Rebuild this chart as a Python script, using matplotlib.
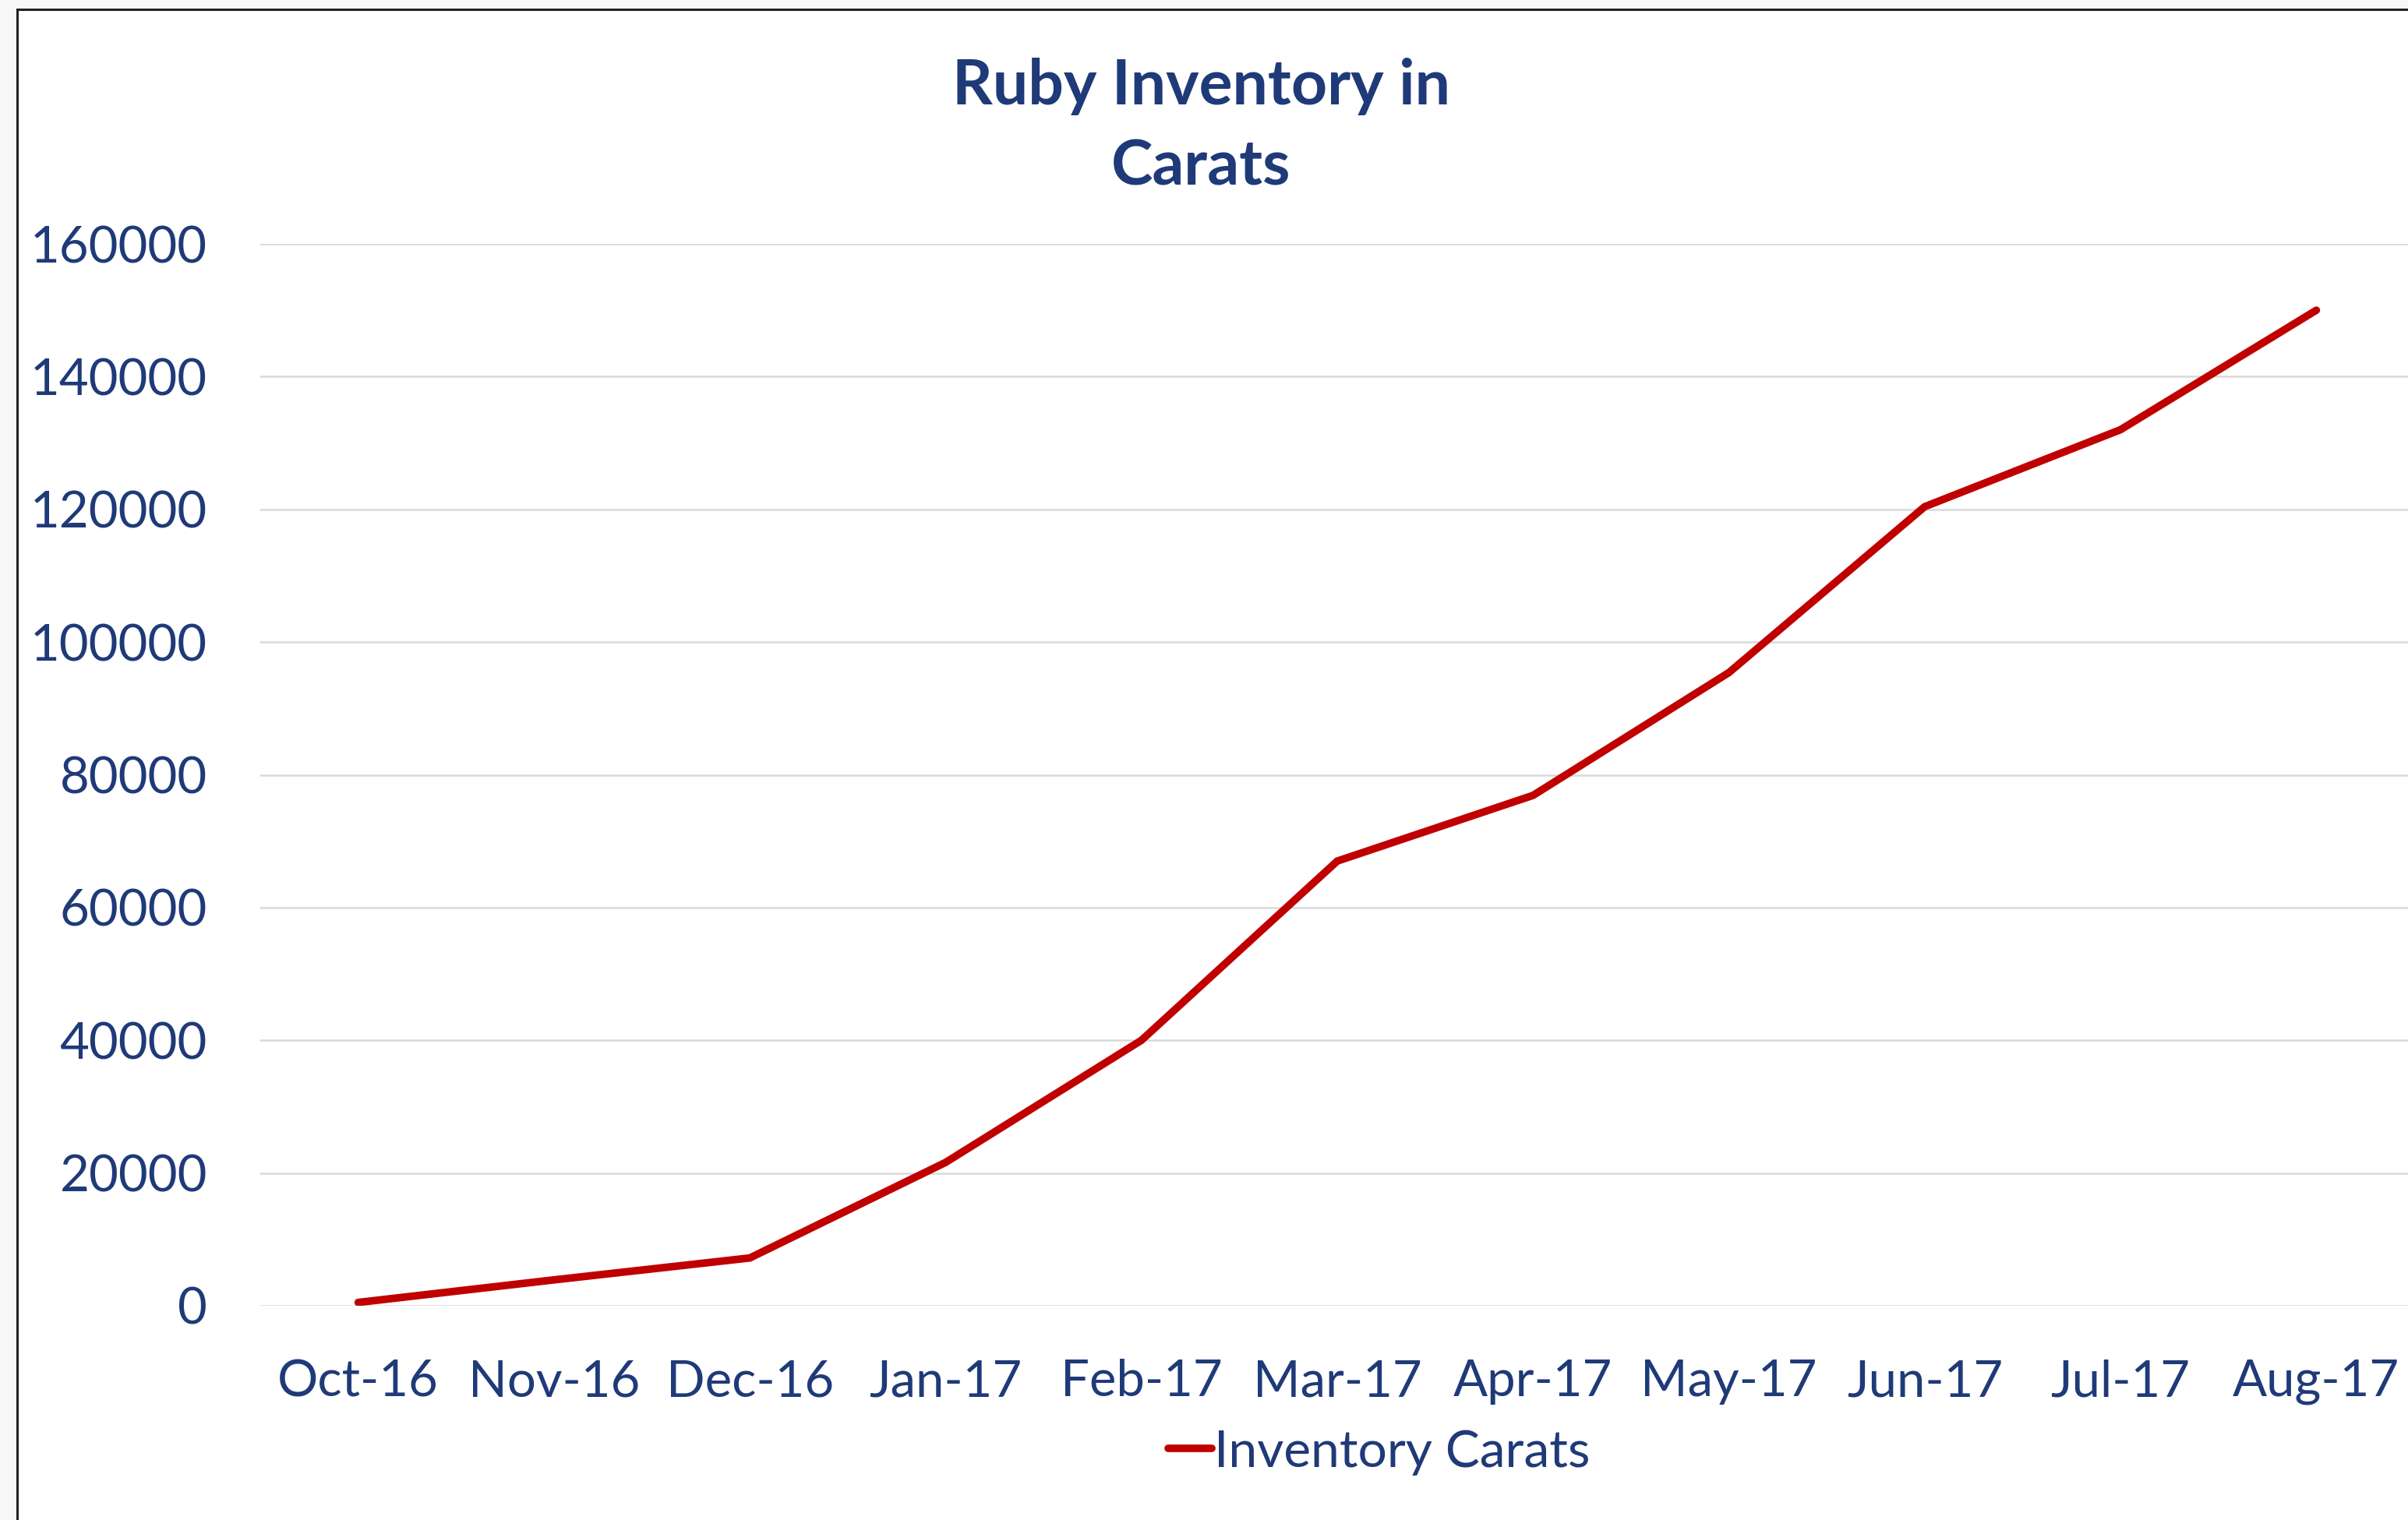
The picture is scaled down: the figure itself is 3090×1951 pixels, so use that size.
import matplotlib
matplotlib.use("Agg")
import matplotlib.pyplot as plt
from matplotlib.patches import Rectangle

# data
months = ["Oct-16", "Nov-16", "Dec-16", "Jan-17", "Feb-17", "Mar-17",
          "Apr-17", "May-17", "Jun-17", "Jul-17", "Aug-17"]
carats = [500, 3900, 7200, 21600, 40000, 67000, 76900, 95400, 120400, 132000, 150000]
yticks = [0, 20000, 40000, 60000, 80000, 100000, 120000, 140000, 160000]

NAVY = "#1F3A78"
RED = "#C00000"
plt.rcParams["font.family"] = ["Lato", "DejaVu Sans"]

W, H = 3090, 1951
fig = plt.figure(figsize=(W / 100, H / 100), dpi=100, facecolor="#f8f8f8")

# chart frame (clipped at right/bottom like the screenshot)
fig.patches.append(Rectangle((22 / W, -0.02), 1.05, 1 - 12 / H + 0.02,
                             transform=fig.transFigure, facecolor="white",
                             edgecolor="#222222", lw=2.2, zorder=-5))

l, r = 334 / W, 3098 / W
b, t = 1 - 1676 / H, 1 - 313 / H
ax = fig.add_axes([l, b, r - l, t - b])
ax.set_zorder(2)
ax.set_facecolor("none")

x = list(range(len(months)))
ax.plot(x, carats, color=RED, lw=7, solid_capstyle="round",
        solid_joinstyle="miter", label="Inventory Carats", zorder=3)

ax.set_xlim(-0.5, len(months) - 0.5)
ax.set_ylim(0, 160000)
ax.set_xticks(x)
ax.set_xticklabels(months)
ax.set_yticks(yticks)
ax.set_yticklabels([str(v) for v in yticks])
ax.tick_params(axis="both", length=0, labelsize=47, labelcolor=NAVY)
ax.tick_params(axis="y", pad=49)
ax.tick_params(axis="x", pad=49)
ax.grid(axis="y", color="#d9d9d9", lw=1.8)
ax.set_axisbelow(True)
for s in ax.spines.values():
    s.set_visible(False)

fig.text(1541 / W, 1 - 74 / H, "Ruby Inventory in\nCarats", ha="center", va="top",
         fontsize=58, fontweight="bold", color=NAVY, linespacing=1.5, zorder=3)

leg = fig.legend(loc="center", bbox_to_anchor=(1770 / W, 1 - 1864 / H), frameon=False,
                 fontsize=47.5, handlelength=0.84, handletextpad=0.05, borderpad=0)
for txt in leg.get_texts():
    txt.set_color(NAVY)

fig.savefig("out.png", dpi=100, facecolor=fig.get_facecolor())
